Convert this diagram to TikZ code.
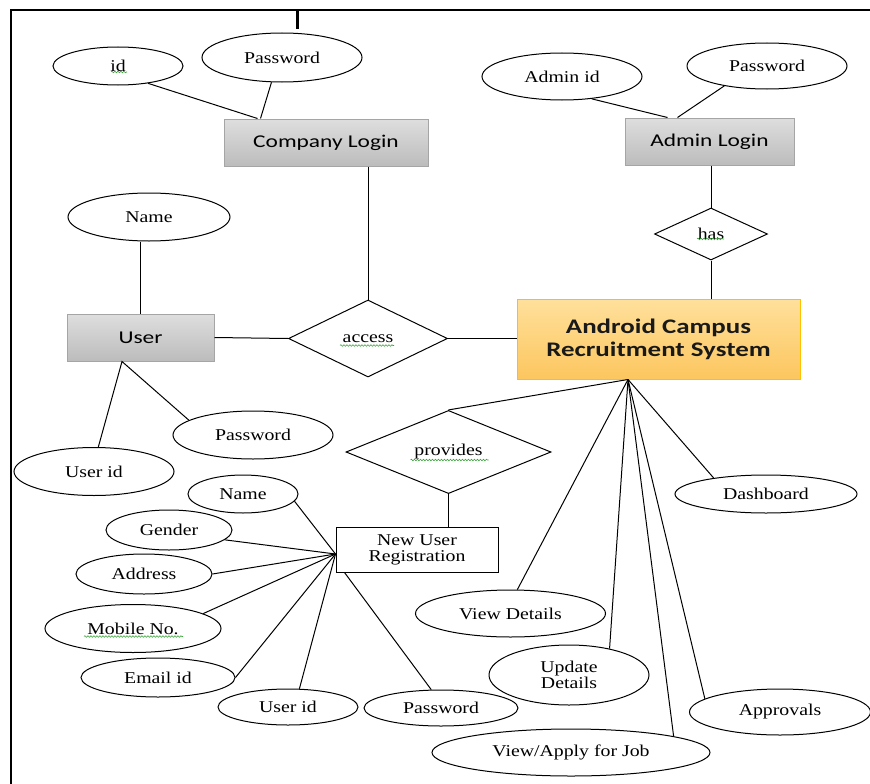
\documentclass[tikz,border=0pt]{standalone}
\usepackage{fontspec}
\setmainfont{Liberation Serif}[FakeStretch=1.2]
\newfontfamily\calfont{Carlito}[FakeStretch=1.3]
\usetikzlibrary{shapes.geometric,decorations.pathmorphing,calc}
\definecolor{grayTop}{RGB}{222,222,222}
\definecolor{grayBot}{RGB}{188,188,188}
\definecolor{grayEdge}{RGB}{165,165,165}
\definecolor{orTop}{RGB}{255,224,155}
\definecolor{orBot}{RGB}{252,198,95}
\definecolor{orEdge}{RGB}{255,192,0}
\definecolor{spellgreen}{RGB}{60,165,60}
\begin{document}
\begin{tikzpicture}[x=1pt,y=-1pt,
  attr/.style={ellipse, draw, line width=1pt, inner sep=0pt, align=center,
    font=\fontsize{16.5}{17}\selectfont},
  ent/.style={rectangle, draw=grayEdge, line width=1pt, top color=grayTop,
    bottom color=grayBot, inner sep=0pt, font=\calfont\fontsize{18}{20}\selectfont},
  rel/.style={diamond, draw, line width=1pt, inner sep=0pt,
    font=\fontsize{16.5}{17}\selectfont},
  conn/.style={line width=1pt},
  frameline/.style={line width=1.5pt},
  spell/.style={draw=spellgreen, line width=0.6pt, decorate,
    decoration={snake, segment length=3pt, amplitude=0.8pt}}
]
\useasboundingbox (0,0) rectangle (870,784);
% frame
\coordinate (ftl) at (11,10);
\coordinate (ftr) at (870,10);
\coordinate (fbl) at (11,784);
\coordinate (tk1) at (297,10);
\coordinate (tk2) at (297,29);
\draw[frameline] (ftr) -- (ftl) -- (fbl);
\draw[line width=3pt] (tk1) -- (tk2);

% entities
\node[ent, minimum width=204, minimum height=47] (clogin) at (326,142.5) {Company Login};
\node[ent, minimum width=169, minimum height=47] (alogin) at (709.5,141.5) {Admin Login};
\node[ent, minimum width=147, minimum height=47] (user) at (140.5,337.5) {User};
\node[rectangle, draw=orEdge, line width=1pt, top color=orTop, bottom color=orBot,
  minimum width=283, minimum height=80, inner sep=0pt, align=center,
  font=\calfont\bfseries\fontsize{20.7}{23}\selectfont, text=black!90]
  (asrs) at (658.5,339) {Android Campus\\Recruitment System};
\node[rectangle, draw, line width=1pt, minimum width=162, minimum height=45,
  inner sep=0pt, align=center, font=\fontsize{16.5}{16}\selectfont]
  (nur) at (417,549.5) {New User\\Registration};

% relationships
\node[rel, minimum width=159, minimum height=77] (access) at (368,338.5) {access};
\node[rel, minimum width=113, minimum height=52] (has) at (711,234) {has};
\node[rel, minimum width=205, minimum height=62] (provides) at (448.5,452) {provides};

% attributes
\node[attr, minimum width=130, minimum height=38] (cid) at (118,66) {id};
\node[attr, minimum width=160, minimum height=49] (cpw) at (282,57.5) {Password};
\node[attr, minimum width=160, minimum height=47] (aid) at (562,76.5) {Admin id};
\node[attr, minimum width=160, minimum height=46] (apw) at (767,66) {Password};
\node[attr, minimum width=162, minimum height=48] (uname) at (149,217) {Name};
\node[attr, minimum width=160, minimum height=48] (upw) at (253,435) {Password};
\node[attr, minimum width=160, minimum height=48] (uid) at (94,471.5) {User id};
\node[attr, minimum width=110, minimum height=38] (nname) at (243,494) {Name};
\node[attr, minimum width=126, minimum height=40] (gender) at (169,530) {Gender};
\node[attr, minimum width=136, minimum height=40] (address) at (144,574) {Address};
\node[attr, minimum width=176, minimum height=48] (mobile) at (133,628.5) {Mobile No.};
\node[attr, minimum width=154, minimum height=39] (email) at (158,677.5) {Email id};
\node[attr, minimum width=140, minimum height=36] (nuid) at (288,707) {User id};
\node[attr, minimum width=154, minimum height=36] (npw) at (441,708) {Password};
\node[attr, minimum width=190, minimum height=47] (vd) at (510.5,613.5) {View Details};
\node[attr, minimum width=160, minimum height=60] (upd) at (569,675) {Update\\[-1pt]Details};
\node[attr, minimum width=278, minimum height=47] (vaj) at (571,752.5) {View/Apply for Job};
\node[attr, minimum width=181, minimum height=46] (appr) at (780,712) {Approvals};
\node[attr, minimum width=182, minimum height=38] (dash) at (766,494) {Dashboard};

% connectors: company login
\draw[conn] (cid.-30) -- ([xshift=34pt]clogin.north west);
\draw[conn] (cpw.-113) -- ([xshift=37pt]clogin.north west);
\draw[conn] (access.north |- clogin.south) -- (access.north);
% admin login
\draw[conn] (aid.-37) -- ([xshift=43pt]alogin.north west);
\draw[conn] (apw.-155) -- ([xshift=53pt]alogin.north west);
\draw[conn] (has.north |- alogin.south) -- (has.north);
\draw[conn] (has.south) -- (has.south |- asrs.north);
% user
\draw[conn] (user.north |- uname.south) -- (user.north);
\draw[conn] (user.east) -- (access.west);
\draw[conn] (access.east) -- (access.east -| asrs.west);
\draw[conn] (uid.80) -- ([xshift=-18.5pt]user.south) -- (upw.167);
% system fan
\draw[conn] ([xshift=-30.5pt]asrs.south) -- (provides.north);
\draw[conn] ([xshift=-30.5pt]asrs.south) -- (vd.74);
\draw[conn] ([xshift=-30.5pt]asrs.south) -- (upd.33);
\draw[conn] ([xshift=-30.5pt]asrs.south) -- (vaj.9);
\draw[conn] ([xshift=-30.5pt]asrs.south) -- (appr.170);
\draw[conn] ([xshift=-30.5pt]asrs.south) -- (dash.163);
\draw[conn] (provides.south) -- (provides.south |- nur.north);
% new user registration
\draw[conn] (nname.-8) -- ([yshift=-4.5pt]nur.west);
\draw[conn] (gender.-10) -- ([yshift=-4.5pt]nur.west);
\draw[conn] (address.east) -- ([yshift=-4.5pt]nur.west);
\draw[conn] (mobile.12) -- ([yshift=-4.5pt]nur.west);
\draw[conn] (email.east) -- ([yshift=-4.5pt]nur.west);
\draw[conn] (nuid.58) -- ([yshift=-4.5pt]nur.west);
\draw[conn] (npw.118) -- ([xshift=9pt]nur.south west);

% spell-check underlines
\draw[spell] ($(cid.center)+(-7,6)$) -- ($(cid.center)+(9,6)$);
\draw[spell] ($(access.center)+(-28,7)$) -- ($(access.center)+(26,7)$);
\draw[spell] ($(has.center)+(-14,5)$) -- ($(has.center)+(13,5)$);
\draw[spell] ($(provides.center)+(-38,8)$) -- ($(provides.center)+(40,8)$);
\draw[spell] ($(mobile.center)+(-49,8)$) -- ($(mobile.center)+(50,8)$);
\end{tikzpicture}
\end{document}
